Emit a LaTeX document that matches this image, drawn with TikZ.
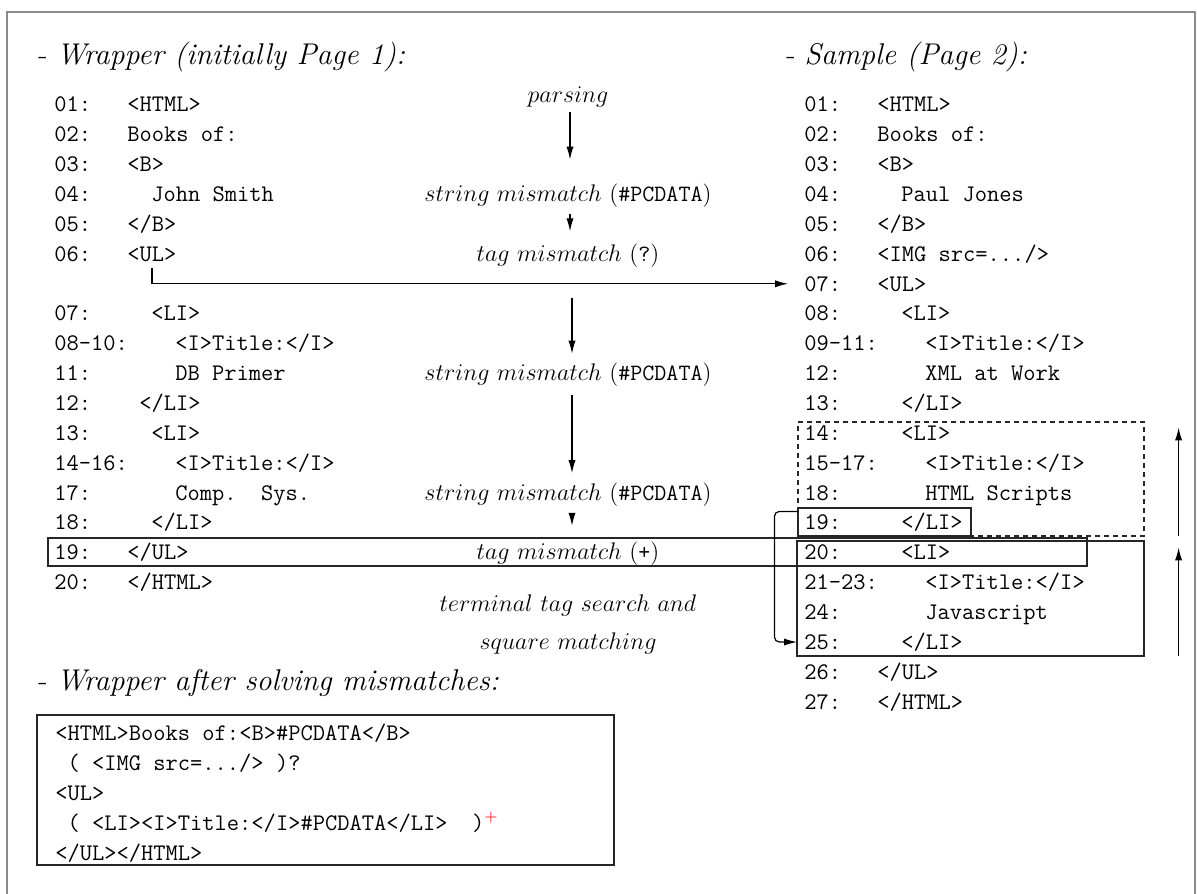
\documentclass[tikz,border=0pt]{standalone}
\usetikzlibrary{arrows.meta,fit}
\newcommand\crow[6]{%
  \node[code] (#1n) at (#2,#3) {#4};
  \node[code] (#1c) at (#5,#3) {#6};}
\begin{document}
\begin{tikzpicture}[x=0.5pt,y=-0.5pt,
  code/.style={font=\fontsize{11.9}{14}\selectfont\ttfamily, inner sep=0pt, anchor=base west},
  head/.style={font=\fontsize{15}{18}\selectfont, inner sep=0pt, anchor=base west},
  lab/.style={font=\fontsize{11.7}{14}\selectfont, inner sep=0pt, anchor=base},
  arr/.style={-{Latex[length=6.5pt,width=3.6pt]}, line width=0.6pt},
  box/.style={draw=black!85, line width=0.6pt, inner sep=0pt},
  frame/.style={draw=black!45, line width=1.2pt}]
\useasboundingbox (0,0) rectangle (1197,893);
\draw[frame] (7,930) -- (7,12) -- (1195,12) -- (1195,930);

% headings
\node[head] (h1) at (38,65) {- \textit{Wrapper (initially Page 1):}};
\node[head] (h2) at (786,65) {- \textit{Sample (Page 2):}};
\node[head] (h3) at (38,690) {- \textit{Wrapper after solving mismatches:}};

% left column
\crow{L01}{54}{112}{01:}{127}{<HTML>}
\crow{L02}{54}{141.85}{02:}{127}{Books of:}
\crow{L03}{54}{171.7}{03:}{127}{<B>}
\crow{L04}{54}{201.55}{04:}{151}{John Smith}
\crow{L05}{54}{231.4}{05:}{127}{</B>}
\crow{L06}{54}{261.25}{06:}{127}{<UL>}
\crow{L07}{54}{320.95}{07:}{151}{<LI>}
\crow{L08}{54}{350.8}{08-10:}{175}{<I>Title:</I>}
\crow{L11}{54}{380.65}{11:}{175}{DB Primer}
\crow{L12}{54}{410.5}{12:}{139}{</LI>}
\crow{L13}{54}{440.35}{13:}{151}{<LI>}
\crow{L14}{54}{470.2}{14-16:}{175}{<I>Title:</I>}
\crow{L17}{54}{500.05}{17:}{175}{Comp.\ \ Sys.}
\crow{L18}{54}{529.9}{18:}{151}{</LI>}
\crow{L19}{54}{559.75}{19:}{127}{</UL>}
\crow{L20}{54}{589.6}{20:}{127}{</HTML>}

% right column
\crow{R01}{804}{112}{01:}{877}{<HTML>}
\crow{R02}{804}{141.85}{02:}{877}{Books of:}
\crow{R03}{804}{171.7}{03:}{877}{<B>}
\crow{R04}{804}{201.55}{04:}{901}{Paul Jones}
\crow{R05}{804}{231.4}{05:}{877}{</B>}
\crow{R06}{804}{261.25}{06:}{877}{<IMG src=.../>}
\crow{R07}{804}{291.1}{07:}{877}{<UL>}
\crow{R08}{804}{320.95}{08:}{901}{<LI>}
\crow{R09}{804}{350.8}{09-11:}{925}{<I>Title:</I>}
\crow{R12}{804}{380.65}{12:}{925}{XML at Work}
\crow{R13}{804}{410.5}{13:}{901}{</LI>}
\crow{R14}{804}{440.35}{14:}{901}{<LI>}
\crow{R15}{804}{470.2}{15-17:}{925}{<I>Title:</I>}
\crow{R18}{804}{500.05}{18:}{925}{HTML Scripts}
\crow{R19}{804}{529.9}{19:}{901}{</LI>}
\crow{R20}{804}{559.75}{20:}{901}{<LI>}
\crow{R21}{804}{589.6}{21-23:}{925}{<I>Title:</I>}
\crow{R24}{804}{619.45}{24:}{925}{Javascript}
\crow{R25}{804}{649.3}{25:}{901}{</LI>}
\crow{R26}{804}{679.15}{26:}{877}{</UL>}
\crow{R27}{804}{709}{27:}{877}{</HTML>}

% middle labels
\node[lab] (M1) at (568,103) {$parsing$};
\node[lab] (M2) at (568,201.55) {$string\ mismatch$ (\texttt{\#PCDATA})};
\node[lab] (M3) at (568,261.25) {$tag\ mismatch$ (\texttt{?})};
\node[lab] (M4) at (568,380.65) {$string\ mismatch$ (\texttt{\#PCDATA})};
\node[lab] (M5) at (568,500.05) {$string\ mismatch$ (\texttt{\#PCDATA})};
\node[lab] (M6) at (568,559.75) {$tag\ mismatch$ (\texttt{+})};
\node[lab] (M7) at (568,611) {$terminal\ tag\ search\ and$};
\node[lab] (M8) at (568,649.3) {$square\ matching$};

\draw[arr] ([xshift=1pt,yshift=-2pt]M1.south) -- ([xshift=1pt,yshift=12pt]M2.north);
\draw[arr, shorten <=3pt, shorten >=6pt] ([xshift=1pt]M2.south) -- ([xshift=1pt]M3.north);
\draw[arr, shorten <=15pt, shorten >=4.5pt] ([xshift=2pt]M3.south) -- ([xshift=2pt]M4.north);
\draw[arr, shorten <=4pt, shorten >=4.5pt] ([xshift=2pt]M4.south) -- ([xshift=2pt]M5.north);
\draw[arr, shorten <=4pt, shorten >=8pt] ([xshift=2pt]M5.south) -- ([xshift=2pt]M6.north);

% UL arrow
\draw[arr] ([yshift=-3pt]L06c.south) |- ([xshift=-8pt]R07n.west);

% boxes
\node[box, fit={(48,538) (1087,566)}] (row19) {};
\node[box, dashed, dash pattern=on 2.5pt off 2pt, fit={(798,422) (1144,536)}] (dashbox) {};
\node[box, fit={(798,508) (971,536)}] (box19) {};
\node[box, fit={(797,541) (1144,656)}] (solbox) {};

\draw[arr, rounded corners=2.5pt] ([yshift=-2pt]box19.north west) -- ++(-23,0) |- ([xshift=-3.5pt]R25n.west);

\draw[arr] ([xshift=17pt,yshift=0.5pt]dashbox.south east) -- ([xshift=17pt,yshift=-3pt]dashbox.north east);
\draw[arr] ([xshift=17pt,yshift=0.5pt]solbox.south east) -- ([xshift=17pt,yshift=-3.5pt]solbox.north east);

% result box
\node[box, fit={(37,715) (614,865)}] (resbox) {};
\node[code] (B1) at (55,740.5) {<HTML>Books of:<B>\#PCDATA</B>};
\node[code] (B2) at (55,770.4) {\ (\ <IMG src=.../>\ )?};
\node[code] (B3) at (55,800.3) {<UL>};
\node[code] (B4) at (55,830.1) {\ (\ <LI><I>Title:</I>\#PCDATA</LI>\ \ )$^{\textcolor{red}{+}}$};
\node[code] (B5) at (55,860) {</UL></HTML>};
\end{tikzpicture}
\end{document}
